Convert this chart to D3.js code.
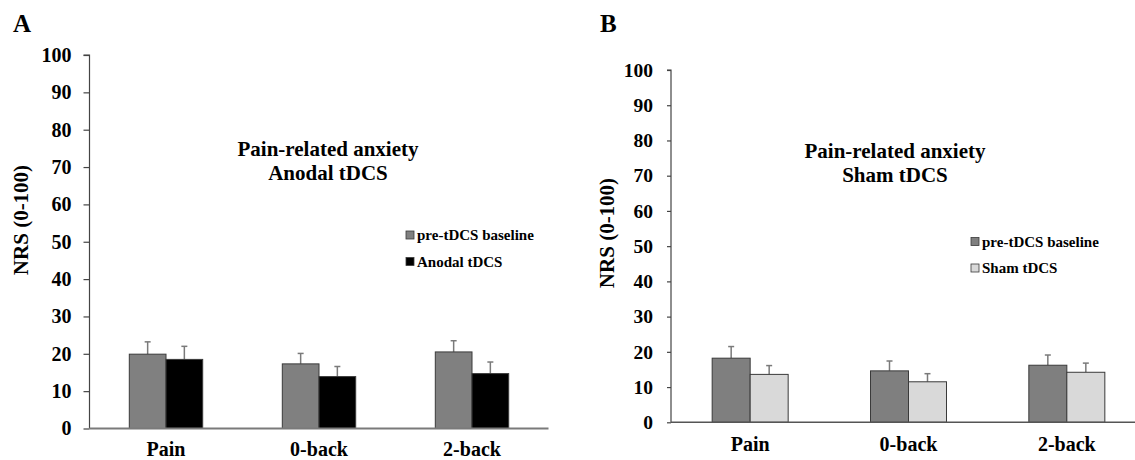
<!DOCTYPE html>
<html>
<head>
<meta charset="utf-8">
<script src="https://cdn.jsdelivr.net/npm/d3@7"></script>
<style>
  html, body { margin: 0; padding: 0; background: #fff; }
  svg { display: block; font-family: "Liberation Serif", "Times New Roman", serif; font-weight: bold; }
</style>
</head>
<body>
<svg id="chart" width="1135" height="460"></svg>
<script>
// ---- data ----
const categories = ["Pain", "0-back", "2-back"];
const yTicks = [0, 10, 20, 30, 40, 50, 60, 70, 80, 90, 100];

const seriesNamesA = ["pre-tDCS baseline", "Anodal tDCS"];
const baselineA = [19.9, 17.3, 20.5];
const baselineAErr = [3.3, 2.8, 3.0];
const anodal = [18.5, 13.9, 14.7];
const anodalErr = [3.5, 2.7, 3.1];

const seriesNamesB = ["pre-tDCS baseline", "Sham tDCS"];
const baselineB = [18.2, 14.6, 16.2];
const baselineBErr = [3.3, 2.8, 2.9];
const sham = [13.6, 11.5, 14.2];
const shamErr = [2.5, 2.3, 2.6];

const titleA = ["Pain-related anxiety", "Anodal tDCS"];
const titleB = ["Pain-related anxiety", "Sham tDCS"];
const yTitle = "NRS (0-100)";

const svg = d3.select("#chart");

function panel(cfg) {
  const g = svg.append("g");
  const x = d3.scaleBand().domain(categories).range([cfg.x0, cfg.x1]).padding(0);
  const y = d3.scaleLinear().domain([0, 100]).range([cfg.yb, cfg.yt]);
  const sub = d3.scaleBand().domain(cfg.names).range([-cfg.bw, cfg.bw]).padding(0);

  // y axis
  const ya = g.append("g").attr("transform", `translate(${cfg.x0},0)`)
    .call(d3.axisLeft(y).tickValues(yTicks).tickSize(cfg.tick).tickPadding(cfg.tpad));
  ya.select(".domain").attr("stroke", "#444").attr("stroke-width", 1.2)
    .attr("d", `M${-cfg.tick},${cfg.yt}H0V${cfg.yb}`);
  ya.selectAll(".tick line").attr("stroke", "#444").attr("stroke-width", 1.2);
  ya.selectAll(".tick text").attr("font-size", cfg.tfs).attr("fill", "#000")
    .attr("font-family", "Liberation Serif").attr("font-weight", "bold");

  // bars
  const series = [
    { name: cfg.names[0], vals: cfg.s1, errs: cfg.e1, fill: cfg.c1 },
    { name: cfg.names[1], vals: cfg.s2, errs: cfg.e2, fill: cfg.c2 }
  ];
  series.forEach(s => {
    const rows = categories.map((c, i) => ({ c, v: s.vals[i], e: s.errs[i] }));
    // error bars (up only)
    const eg = g.append("g");
    rows.forEach(r => {
      const cx = x(r.c) + x.bandwidth() / 2 + sub(s.name) + sub.bandwidth() / 2;
      eg.append("line").attr("x1", cx).attr("x2", cx)
        .attr("y1", y(r.v)).attr("y2", y(r.v + r.e))
        .attr("stroke", "#7a7a7a").attr("stroke-width", 1.5);
      eg.append("line").attr("x1", cx - 3).attr("x2", cx + 3)
        .attr("y1", y(r.v + r.e)).attr("y2", y(r.v + r.e))
        .attr("stroke", "#7a7a7a").attr("stroke-width", 1.5);
    });
    g.append("g").selectAll("rect").data(rows).join("rect")
      .attr("x", d => x(d.c) + x.bandwidth() / 2 + sub(s.name))
      .attr("width", sub.bandwidth())
      .attr("y", d => y(d.v))
      .attr("height", d => cfg.yb - y(d.v))
      .attr("fill", s.fill)
      .attr("stroke", "#3a3a3a").attr("stroke-width", 1);
  });

  // x axis
  const xa = g.append("g").attr("transform", `translate(0,${cfg.yb})`)
    .call(d3.axisBottom(x).tickSize(0).tickPadding(cfg.xpad));
  xa.select(".domain").attr("stroke", cfg.xaxisColor).attr("stroke-width", cfg.xaxisW)
    .attr("d", `M${cfg.x0},0H${Math.min(cfg.x1, 1135)}`);
  xa.selectAll(".tick text").attr("font-size", 20).attr("fill", "#000")
    .attr("font-family", "Liberation Serif").attr("font-weight", "bold");

  // y title
  g.append("text")
    .attr("transform", `translate(${cfg.ytx},${cfg.yty}) rotate(-90)`)
    .attr("text-anchor", "middle").attr("font-size", 21).text(yTitle);

  // title
  g.append("text").attr("x", cfg.tx).attr("y", cfg.ty).attr("text-anchor", "middle")
    .attr("font-size", 21).text(cfg.title[0]);
  g.append("text").attr("x", cfg.tx).attr("y", cfg.ty + 23.5).attr("text-anchor", "middle")
    .attr("font-size", 21).text(cfg.title[1]);

  // legend
  series.forEach((s, i) => {
    const ly = cfg.ly + i * cfg.lgap;
    g.append("rect").attr("x", cfg.lx).attr("y", ly - 4).attr("width", 8).attr("height", 8)
      .attr("fill", s.fill).attr("stroke", "#3a3a3a").attr("stroke-width", 0.8);
    g.append("text").attr("x", cfg.lx + 11).attr("y", ly).attr("dy", "0.34em")
      .attr("font-size", 15).text(s.name);
  });

  // panel letter
  g.append("text").attr("x", cfg.px).attr("y", 32).attr("font-size", 25).text(cfg.letter);
}

panel({
  letter: "A", px: 13,
  x0: 89.5, x1: 548.5, yb: 428.5, yt: 55, bw: 36.7, tick: 6, tpad: 12, tfs: 20, xpad: 13,
  names: seriesNamesA, s1: baselineA, e1: baselineAErr, s2: anodal, e2: anodalErr,
  c1: "#808080", c2: "#000000", xaxisColor: "#7a7a7a", xaxisW: 2,
  ytx: 28, yty: 220, tx: 328, ty: 156, title: titleA,
  lx: 406, ly: 235, lgap: 26.5
});

panel({
  letter: "B", px: 600,
  x0: 671, x1: 1146, yb: 422.3, yt: 70, bw: 38, tick: 4, tpad: 14, tfs: 19.5, xpad: 15,
  names: seriesNamesB, s1: baselineB, e1: baselineBErr, s2: sham, e2: shamErr,
  c1: "#7f7f7f", c2: "#d9d9d9", xaxisColor: "#555", xaxisW: 1.5,
  ytx: 614, yty: 233, tx: 895, ty: 158, title: titleB,
  lx: 971, ly: 241.5, lgap: 26.5
});
</script>
</body>
</html>
